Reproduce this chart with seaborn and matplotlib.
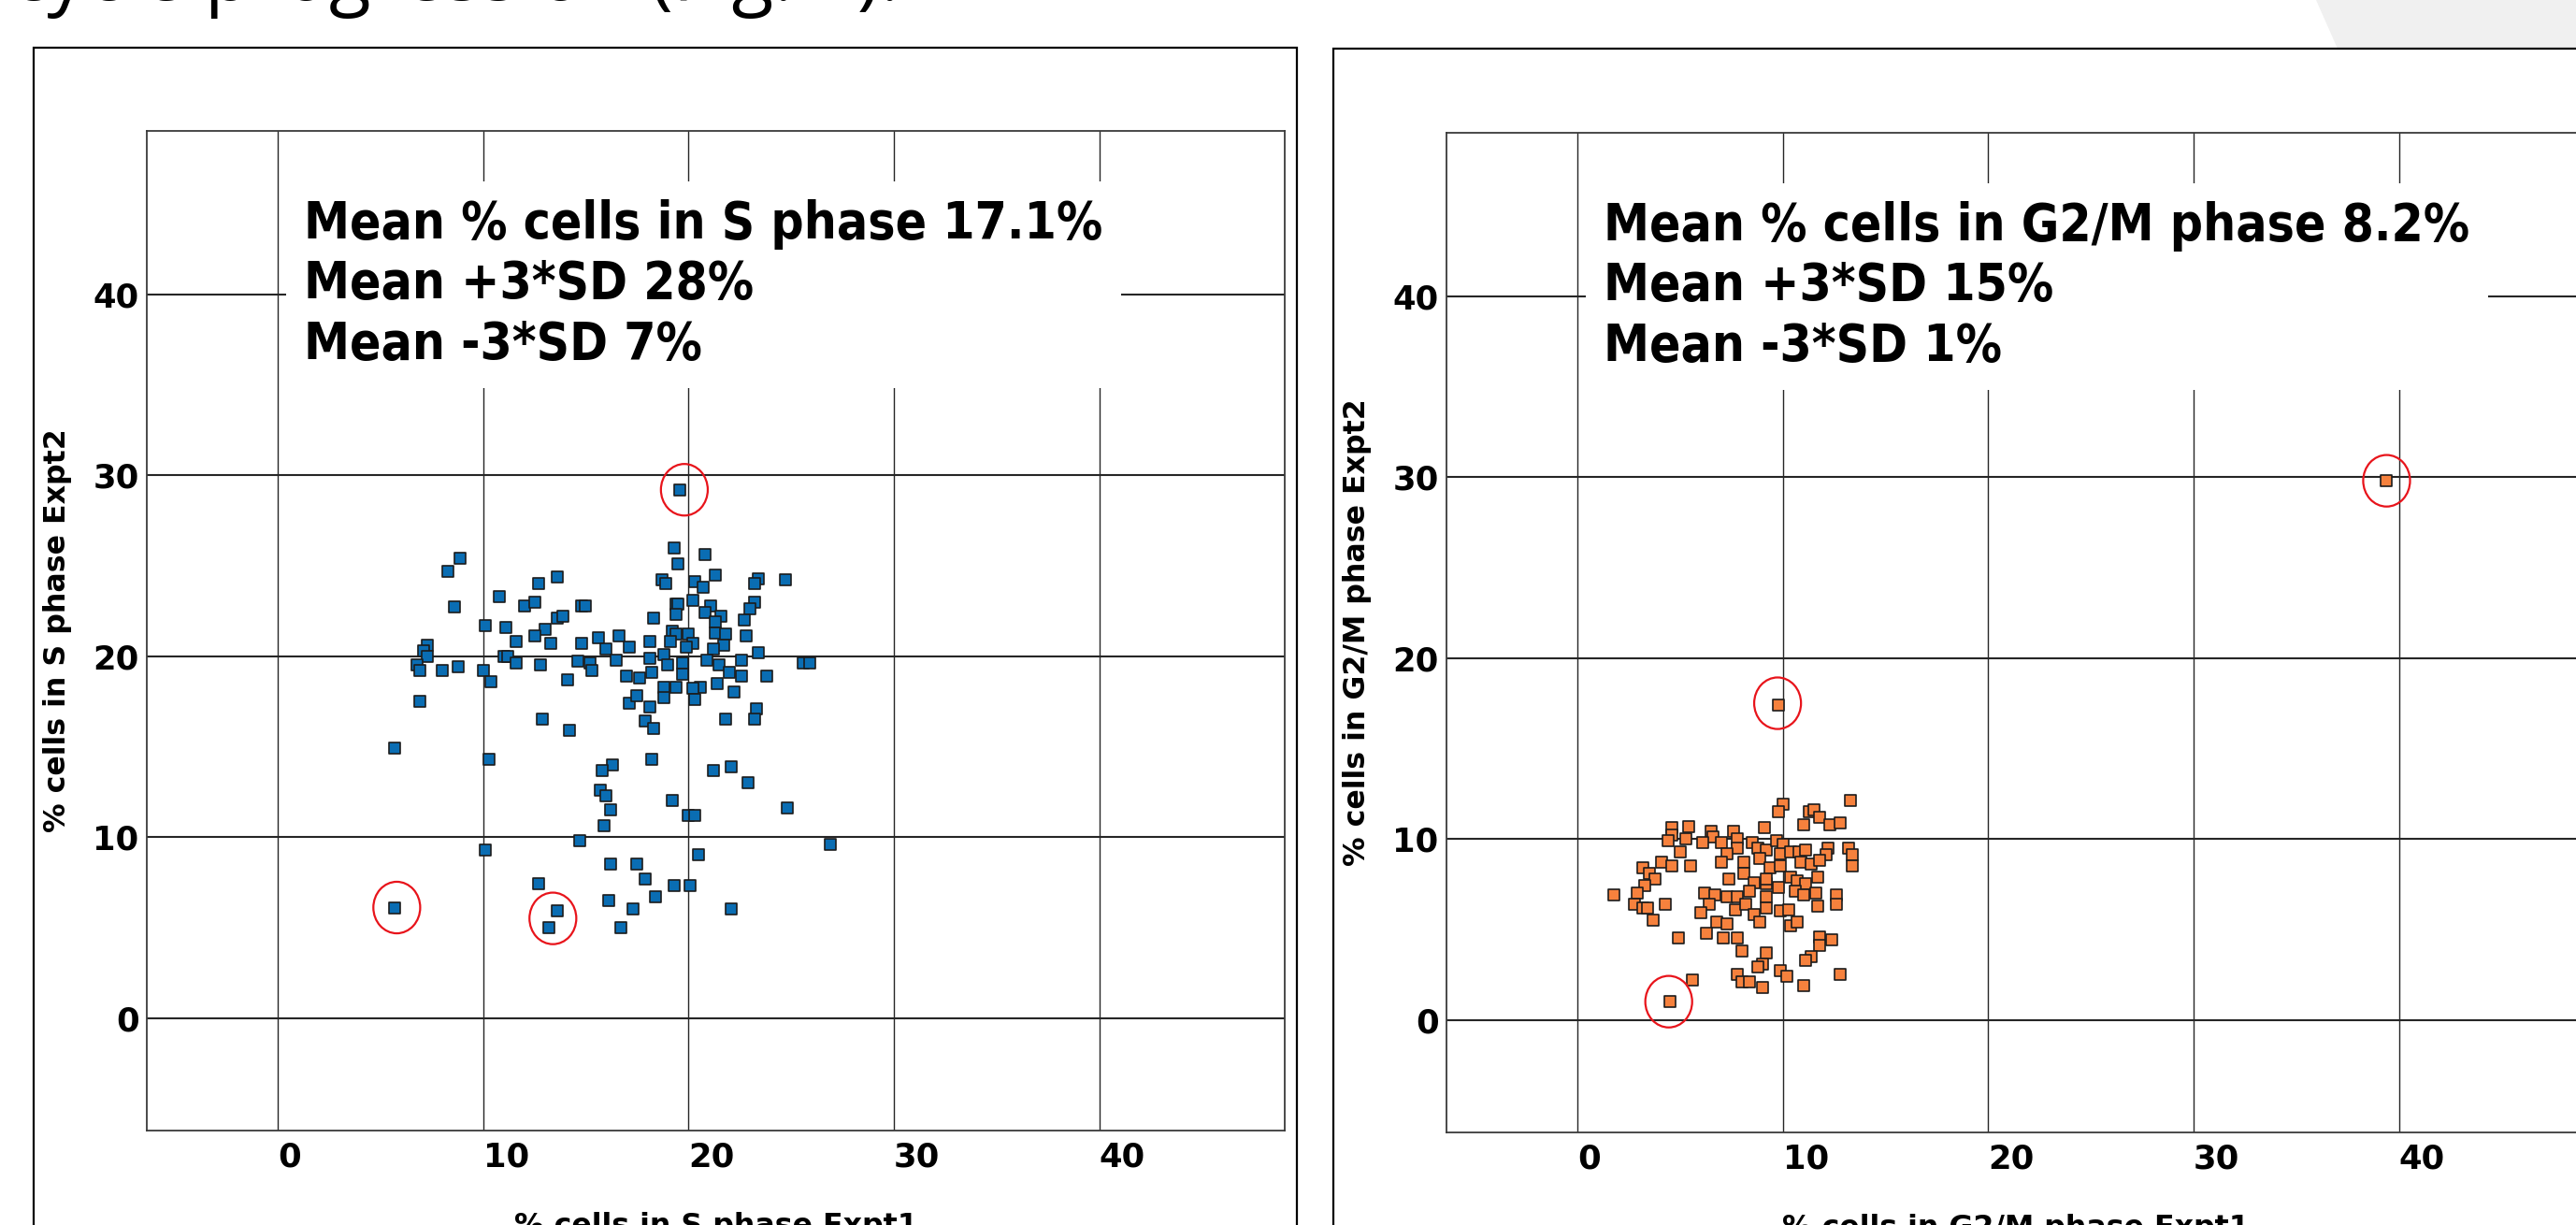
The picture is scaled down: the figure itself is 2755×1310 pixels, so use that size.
import matplotlib
matplotlib.use("Agg")
import matplotlib.pyplot as plt
import seaborn as sns
import pandas as pd
from matplotlib.patches import Ellipse, Rectangle, Polygon

# ---------------- data ----------------
s_expt1 = [19.6,19.3,20.8,19.5,8.9,8.3,13.6,12.7,18.7,18.9,20.3,21.3,20.7,23.4,23.2,24.7,10.8,8.6,12.0,12.5,
           14.8,15.0,19.4,19.5,20.2,21.1,19.4,20.8,23.2,23.0,21.6,21.3,22.7,18.3,10.1,13.6,13.9,11.1,13.0,11.6,
           12.5,13.3,14.8,15.6,16.6,16.0,17.1,18.1,19.2,19.4,20.0,19.1,20.2,19.9,21.3,21.8,21.7,21.2,22.8,23.4,
           7.3,7.1,7.3,6.8,6.9,8.0,8.8,10.0,10.4,6.9,11.0,11.2,11.6,12.8,14.1,14.6,15.2,15.3,16.5,18.1,
           18.8,19.0,19.7,19.7,18.2,17.0,17.6,18.8,19.4,20.6,20.2,20.9,21.5,22.0,22.6,22.6,23.8,21.4,25.6,25.9,
           22.2,17.1,17.5,18.1,18.8,20.3,23.3,
           12.9,14.2,17.9,18.3,21.8,23.2,5.7,10.3,16.3,15.8,18.2,21.2,22.1,22.9,15.7,16.0,16.2,19.2,20.0,20.3,
           24.8,15.9,14.7,10.1,26.9,20.5,16.2,17.5,17.9,12.7,19.3,20.1,18.4,16.1,17.3,22.1,13.6,13.2,16.7,5.7]
s_expt2 = [29.2,26.0,25.6,25.1,25.4,24.7,24.4,24.0,24.2,24.0,24.1,24.5,23.8,24.3,24.0,24.2,23.3,22.7,22.8,23.0,
           22.8,22.8,22.9,22.9,23.1,22.8,22.3,22.4,23.0,22.6,22.2,21.9,22.0,22.1,21.7,22.1,22.2,21.6,21.5,20.8,
           21.1,20.7,20.7,21.0,21.1,20.4,20.5,20.8,21.4,21.2,21.2,20.8,20.7,20.5,21.3,21.2,20.6,20.4,21.1,20.2,
           20.6,20.3,20.0,19.5,19.2,19.2,19.4,19.2,18.6,17.5,20.0,20.0,19.6,19.5,18.7,19.7,19.6,19.2,19.8,19.9,
           20.1,19.5,19.6,19.0,19.1,18.9,18.8,18.3,18.3,18.3,18.2,19.8,19.5,19.1,19.8,18.9,18.9,18.5,19.6,19.6,
           18.0,17.4,17.8,17.2,17.7,17.6,17.1,
           16.5,15.9,16.4,16.0,16.5,16.5,14.9,14.3,14.0,13.7,14.3,13.7,13.9,13.0,12.6,12.3,11.5,12.0,11.2,11.2,
           11.6,10.6,9.8,9.3,9.6,9.0,8.5,8.5,7.7,7.4,7.3,7.3,6.7,6.5,6.0,6.0,5.9,5.0,5.0,6.1]

g2m_expt1 = [13.3,10.0,9.8,11.3,11.5,11.8,11.0,12.3,12.8,9.1,4.6,5.4,4.6,4.4,5.3,5.0,6.5,6.6,6.1,7.0,
             7.6,7.8,7.8,7.3,8.5,8.8,9.2,9.7,10.0,9.9,10.4,10.8,11.1,12.2,12.1,13.2,13.4,13.4,7.0,8.1,
             8.9,9.4,9.9,10.9,11.4,11.8,5.5,4.1,4.6,3.2,3.5,3.8,3.3,2.9,1.8,2.8,3.2,3.4,3.7,4.3,
             7.4,8.1,8.6,9.2,9.2,9.8,10.4,10.7,11.1,11.7,6.2,6.7,7.3,7.8,8.4,9.2,10.6,11.0,11.6,12.6,
             12.6,11.7,6.4,6.0,7.7,8.2,9.2,9.9,10.3,8.6,8.9,6.8,7.3,10.4,10.7,6.3,7.1,7.8,4.9,8.0,
             11.8,12.4,11.8,9.2,11.4,11.1,9.0,8.8,9.9,10.2,12.8,7.8,8.0,8.4,9.0,11.0,5.6,4.5,9.8,39.4]
g2m_expt2 = [12.1,11.9,11.5,11.5,11.6,11.2,10.8,10.8,10.9,10.6,10.6,10.7,10.2,9.9,10.0,9.3,10.4,10.1,9.8,9.8,
             10.4,10.0,9.5,9.2,9.8,9.5,9.4,9.9,9.7,9.2,9.3,9.3,9.4,9.5,9.1,9.5,9.1,8.5,8.7,8.7,
             8.9,8.4,8.5,8.7,8.6,8.8,8.5,8.7,8.5,8.4,8.1,7.8,7.4,7.0,6.9,6.4,6.2,6.2,5.5,6.4,
             7.8,8.1,7.6,7.5,7.8,7.3,7.9,7.7,7.5,7.9,7.0,6.9,6.8,6.8,7.1,6.8,7.1,6.9,7.0,6.9,
             6.4,6.3,6.4,5.9,6.1,6.4,6.2,6.0,6.1,5.8,5.4,5.4,5.3,5.2,5.4,4.8,4.5,4.5,4.5,3.8,
             4.6,4.4,4.1,3.7,3.5,3.3,3.1,2.9,2.7,2.4,2.5,2.5,2.1,2.1,1.8,1.9,2.2,1.0,17.4,29.8]

# outliers marked with red circles
s_circled_x = [19.8, 5.8, 13.4]
s_circled_y = [29.2, 6.1, 5.5]
g2m_circled_x = [39.4, 9.75, 4.45]
g2m_circled_y = [29.8, 17.5, 1.0]

tick_values = [0, 10, 20, 30, 40]
tick_labels = ["0", "10", "20", "30", "40"]

s_stats = ["Mean % cells in S phase 17.1%", "Mean +3*SD 28%", "Mean -3*SD 7%"]
g2m_stats = ["Mean % cells in G2/M phase 8.2%", "Mean +3*SD 15%", "Mean -3*SD 1%"]

s_xlabel, s_ylabel = "% cells in S phase Expt1", "% cells in S phase Expt2"
g2m_xlabel, g2m_ylabel = "% cells in G2/M phase Expt1", "% cells in G2/M phase Expt2"
slide_text = "cell cycle progression (Fig. 1)."

# ---------------- style ----------------
sns.set_style("white")
plt.rcParams["font.family"] = ["DejaVu Sans"]
plt.rcParams["text.color"] = "black"
plt.rcParams["axes.labelcolor"] = "black"
plt.rcParams["xtick.color"] = "black"
plt.rcParams["ytick.color"] = "black"

W, H = 2755, 1310
fig = plt.figure(figsize=(W / 100, H / 100), dpi=100)
fig.patch.set_facecolor("white")

BLUE = "#0a6db3"
ORANGE = "#f6813d"
GRID = "#262626"

# slide decorations
fig.add_artist(Polygon([(2477 / W, 1.0), (1.0, 1.0), (1.0, 1 - 52 / H), (2500 / W, 1 - 52 / H)],
                       closed=True, transform=fig.transFigure, fc="#f0f0f0", ec="none", zorder=-2))
fig.add_artist(Rectangle((36 / W, -0.1), (1387 - 36) / W, 1 - 51 / H + 0.1, transform=fig.transFigure,
                         fill=False, ec="black", lw=1.6, zorder=-1))
fig.add_artist(Rectangle((1426 / W, -0.1), 0.6, 1 - 52 / H + 0.1, transform=fig.transFigure,
                         fill=False, ec="black", lw=1.6, zorder=-1))
fig.text(962 / W, 1.0, slide_text, ha="right", va="baseline", fontsize=59,
         family=["Open Sans", "DejaVu Sans"], color="black")

ax_w, ax_h = 1217 / W, 1069 / H
ax1 = fig.add_axes([157 / W, 1 - 1209 / H, ax_w, ax_h])
ax2 = fig.add_axes([1547 / W, 1 - 1211 / H, ax_w, ax_h])

panels = [
    (ax1, s_expt1, s_expt2, BLUE, s_circled_x, s_circled_y, s_stats, s_xlabel, s_ylabel),
    (ax2, g2m_expt1, g2m_expt2, ORANGE, g2m_circled_x, g2m_circled_y, g2m_stats, g2m_xlabel, g2m_ylabel),
]

for ax, xs, ys, col, cx, cy, stats, xl, yl in panels:
    df = pd.DataFrame({"x": xs, "y": ys})
    sns.scatterplot(data=df, x="x", y="y", ax=ax, marker="s", s=85, color=col,
                    edgecolor="#1c1c1c", linewidth=1.2, zorder=3, legend=False)
    ax.set_xlim(-6.37, 49.03)
    ax.set_ylim(-6.23, 49.04)
    ax.set_xticks(tick_values, labels=tick_labels, fontweight="bold", ha="left")
    ax.set_yticks(tick_values, labels=tick_labels, fontweight="bold")
    ax.set_axisbelow(True)
    ax.xaxis.grid(True, color=GRID, linewidth=1.0)
    ax.yaxis.grid(True, color=GRID, linewidth=1.5)
    ax.tick_params(axis="both", direction="out", length=5, width=1.1, color=GRID,
                   labelsize=25.5, labelcolor="black")
    ax.tick_params(axis="x", pad=3)
    ax.tick_params(axis="y", pad=1)
    for sp in ax.spines.values():
        sp.set_color("#3a3a3a")
        sp.set_linewidth(1.3)
    ax.set_xlabel(xl, fontsize=22.75, fontweight="bold", labelpad=30.5, color="black")
    ax.set_ylabel(yl, fontsize=22.75, fontweight="bold", labelpad=16, color="black")
    ax.text(1.3, 45.27, "\n".join(stats), ha="left", va="top", fontsize=39.5, fontweight="bold",
            fontstretch="condensed", linespacing=1.25, zorder=4, color="black",
            bbox=dict(boxstyle="square,pad=0.35", fc="white", ec="none"))
    for ex, ey in zip(cx, cy):
        ax.add_patch(Ellipse((ex, ey), 2.28, 2.85, fill=False, ec="#e8141b", lw=1.6, zorder=5))

fig.savefig("out.png", dpi=100, facecolor="white")
